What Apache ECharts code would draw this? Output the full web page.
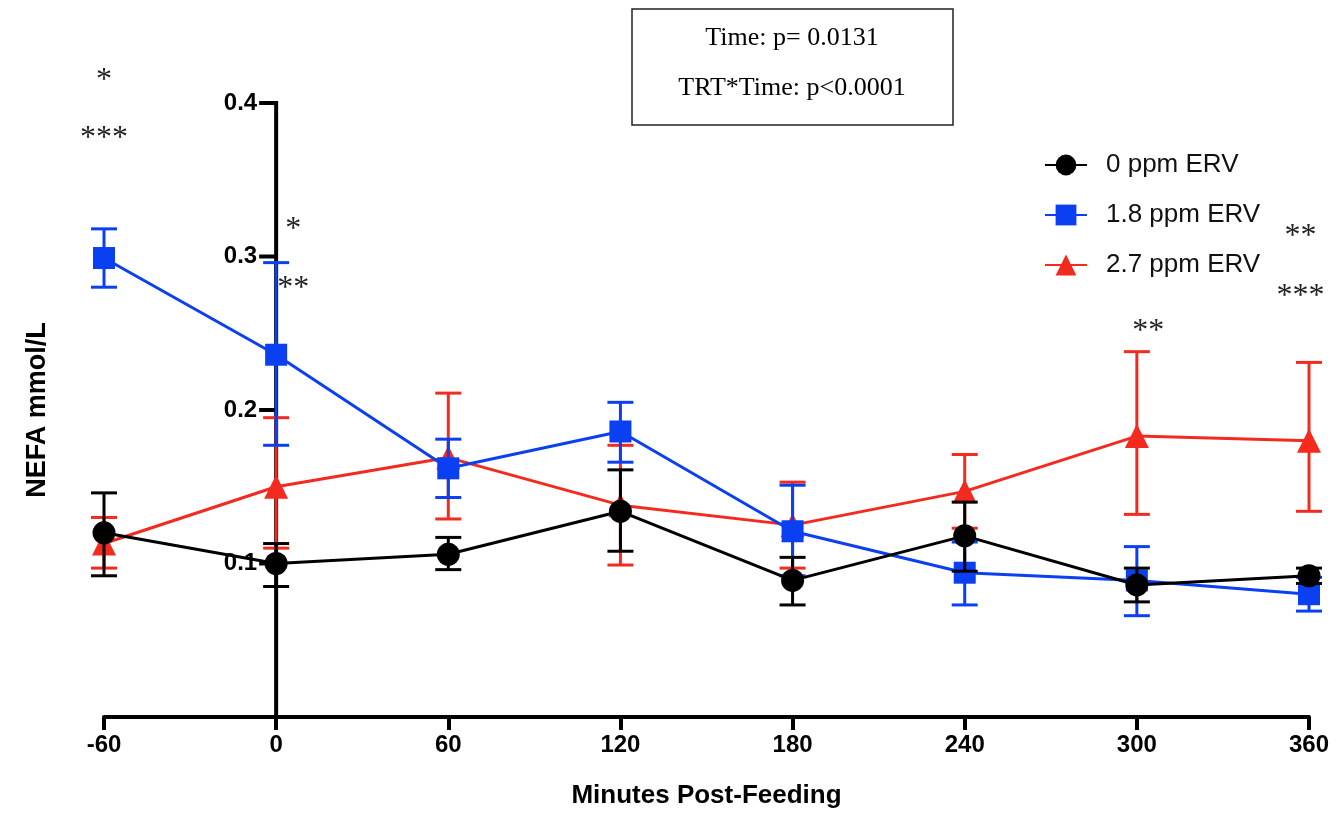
<!DOCTYPE html>
<html><head><meta charset="utf-8">
<script src="https://cdn.jsdelivr.net/npm/echarts@6/dist/echarts.min.js"></script>
<style>html,body{margin:0;padding:0;background:#fff}#c{width:1341px;height:814px}</style>
</head><body><div id="c"></div>
<script>
// ---- data ----
const minutes = [-60, 0, 60, 120, 180, 240, 300, 360];
const seriesNames = ['0 ppm ERV', '1.8 ppm ERV', '2.7 ppm ERV'];
const ctrlMean = [0.120, 0.100, 0.106, 0.134, 0.089, 0.118, 0.086, 0.092];
const ctrlLow  = [0.092, 0.085, 0.096, 0.108, 0.073, 0.095, 0.075, 0.087];
const ctrlHigh = [0.146, 0.113, 0.117, 0.161, 0.104, 0.140, 0.097, 0.097];
const lowMean  = [0.299, 0.236, 0.162, 0.186, 0.121, 0.094, 0.089, 0.080];
const lowLow   = [0.280, 0.177, 0.143, 0.166, 0.092, 0.073, 0.066, 0.069];
const lowHigh  = [0.318, 0.296, 0.181, 0.205, 0.151, 0.114, 0.111, 0.091];
const highMean = [0.113, 0.150, 0.169, 0.138, 0.125, 0.147, 0.183, 0.180];
const highLow  = [0.097, 0.110, 0.129, 0.099, 0.097, 0.123, 0.132, 0.134];
const highHigh = [0.130, 0.195, 0.211, 0.177, 0.153, 0.171, 0.238, 0.231];
const xTicks = [-60, 0, 60, 120, 180, 240, 300, 360];
const yTicks = [0.1, 0.2, 0.3, 0.4];
const yAxisAt = 0; // y axis crosses x axis at minute 0
// significance annotations: [minute, value, text]
const annotX = [-60, -60, 6, 6, 304, 357, 357];
const annotY = [0.420, 0.382, 0.323, 0.284, 0.256, 0.318, 0.279];
const annotText = ['*', '***', '*', '**', '**', '**', '***'];
const statLines = ['Time: p= 0.0131', 'TRT*Time: p<0.0001'];

const BLACK = '#000000', BLUE = '#0b3ff2', RED = '#f42a1f';

const chart = echarts.init(document.getElementById('c'));

function errSeries(name, low, high, color, z) {
  return {
    type: 'custom', name: name + ' SEM', z: z, silent: true,
    data: minutes.map((m, i) => [m, low[i], high[i]]),
    renderItem: (params, api) => {
      const top = api.coord([api.value(0), api.value(2)]);
      const bot = api.coord([api.value(0), api.value(1)]);
      const hw = 13;
      const style = { stroke: color, lineWidth: 3 };
      return { type: 'group', children: [
        { type: 'line', shape: { x1: top[0], y1: top[1], x2: bot[0], y2: bot[1] }, style },
        { type: 'line', shape: { x1: top[0] - hw, y1: top[1], x2: top[0] + hw, y2: top[1] }, style },
        { type: 'line', shape: { x1: bot[0] - hw, y1: bot[1], x2: bot[0] + hw, y2: bot[1] }, style }
      ]};
    }
  };
}
function lineSeries(name, mean, color, symbol, size, z) {
  return {
    type: 'line', name: name, z: z, symbol: symbol, symbolSize: size,
    data: minutes.map((m, i) => [m, mean[i]]),
    itemStyle: { color: color, opacity: 1 },
    lineStyle: { color: color, width: 3 },
    emphasis: { disabled: true }, animation: false
  };
}

// y axis drawn at minute 0 through the library's coordinate system
const yAxisSeries = {
  type: 'custom', name: 'yaxis', z: 0, silent: true, clip: false,
  data: [[yAxisAt, 0]],
  renderItem: (params, api) => {
    const x0 = api.value(0);
    const bottom = api.coord([x0, 0]);
    const top = api.coord([x0, yTicks[yTicks.length - 1]]);
    const children = [
      { type: 'line', shape: { x1: bottom[0], y1: bottom[1], x2: top[0], y2: top[1] - 2 },
        style: { stroke: '#000', lineWidth: 4 } }
    ];
    yTicks.forEach(v => {
      const p = api.coord([x0, v]);
      children.push({ type: 'line', shape: { x1: p[0] - 17, y1: p[1], x2: p[0], y2: p[1] },
        style: { stroke: '#000', lineWidth: 4 } });
      children.push({ type: 'text', x: p[0] - 19, y: p[1],
        style: { text: v.toFixed(1), textAlign: 'right', textVerticalAlign: 'middle',
          fontFamily: 'Liberation Sans', fontWeight: 'bold', fontSize: 24, fill: '#000' } });
    });
    return { type: 'group', children };
  }
};

// significance asterisks placed through the coordinate system
const sigSeries = {
  type: 'custom', name: 'sig', z: 7, silent: true, clip: false,
  data: annotX.map((x, i) => [x, annotY[i], i]),
  renderItem: (params, api) => {
    const p = api.coord([api.value(0), api.value(1)]);
    return { type: 'text', x: p[0], y: p[1] + 8,
      style: { text: annotText[api.value(2)], textAlign: 'center', textVerticalAlign: 'middle',
        fontFamily: 'Liberation Serif', fontSize: 32, fill: '#222' } };
  }
};

const option = {
  animation: false,
  backgroundColor: '#fff',
  grid: { left: 104, right: 32, top: 103, bottom: 97, containLabel: false, outerBoundsMode: 'none' },
  xAxis: {
    type: 'value', min: -60, max: 360, interval: 60,
    name: 'Minutes Post-Feeding', nameLocation: 'middle', nameGap: 66,
    nameTextStyle: { fontFamily: 'Liberation Sans', fontWeight: 'bold', fontSize: 26, color: '#000' },
    axisLine: { onZero: false, lineStyle: { color: '#000', width: 4 } },
    axisTick: { show: true, inside: false, length: 13, lineStyle: { color: '#000', width: 4 } },
    axisLabel: { margin: 16, fontFamily: 'Liberation Sans', fontWeight: 'bold', fontSize: 24, color: '#000',
      formatter: v => xTicks.includes(v) ? String(v) : '' },
    splitLine: { show: false }
  },
  yAxis: {
    type: 'value', min: 0, max: 0.4, interval: 0.1,
    name: 'NEFA mmol/L', nameLocation: 'middle', nameGap: 53, nameRotate: 90,
    nameTextStyle: { fontFamily: 'Liberation Sans', fontWeight: 'bold', fontSize: 27, color: '#000' },
    axisLine: { show: false, onZero: false },
    axisTick: { show: false },
    axisLabel: { show: false },
    splitLine: { show: false }
  },
  legend: {
    orient: 'vertical', left: 1039, top: 147, itemWidth: 42, itemHeight: 26, itemGap: 24,
    data: seriesNames,
    textStyle: { fontFamily: 'Liberation Sans', fontSize: 26, color: '#111', padding: [0, 0, 0, 14] }
  },
  series: [
    yAxisSeries,
    errSeries(seriesNames[2], highLow, highHigh, RED, 1),
    lineSeries(seriesNames[2], highMean, RED, 'triangle', 24, 2),
    errSeries(seriesNames[1], lowLow, lowHigh, BLUE, 3),
    lineSeries(seriesNames[1], lowMean, BLUE, 'rect', 22, 4),
    errSeries(seriesNames[0], ctrlLow, ctrlHigh, BLACK, 5),
    lineSeries(seriesNames[0], ctrlMean, BLACK, 'circle', 23, 6),
    sigSeries
  ],
  graphic: [
    { type: 'rect', shape: { x: 632, y: 9, width: 321, height: 116 },
      style: { fill: '#fff', stroke: '#222', lineWidth: 1.5 }, z: 10 },
    { type: 'text', x: 792, y: 38, z: 11,
      style: { text: statLines[0], fontFamily: 'Liberation Serif', fontSize: 26, fill: '#000', textAlign: 'center', textVerticalAlign: 'middle' } },
    { type: 'text', x: 792, y: 88, z: 11,
      style: { text: statLines[1], fontFamily: 'Liberation Serif', fontSize: 26, fill: '#000', textAlign: 'center', textVerticalAlign: 'middle' } }
  ]
};
chart.setOption(option);
</script>
</body></html>
